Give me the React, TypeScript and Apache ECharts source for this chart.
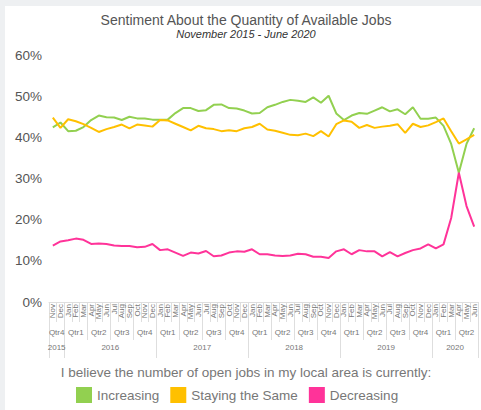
import React, { useEffect, useRef } from "react";
import * as echarts from "echarts";

const months = [
  "Nov", "Dec",
  "Jan", "Feb", "Mar", "Apr", "May", "Jun", "Jul", "Aug", "Sep", "Oct", "Nov", "Dec",
  "Jan", "Feb", "Mar", "Apr", "May", "Jun", "Jul", "Aug", "Sep", "Oct", "Nov", "Dec",
  "Jan", "Feb", "Mar", "Apr", "May", "Jun", "Jul", "Aug", "Sep", "Oct", "Nov", "Dec",
  "Jan", "Feb", "Mar", "Apr", "May", "Jun", "Jul", "Aug", "Sep", "Oct", "Nov", "Dec",
  "Jan", "Feb", "Mar", "Apr", "May", "Jun",
];
const years = ["2015", "2016", "2017", "2018", "2019", "2020"];

const increasing = [
  42.4, 43.6,
  41.5, 41.6, 42.5, 44.2, 45.3, 44.9, 44.8, 44.2, 45.0, 44.6, 44.6, 44.3,
  44.3, 44.3, 45.9, 47.1, 47.1, 46.4, 46.6, 47.9, 48.0, 47.1, 47.0, 46.5,
  45.8, 45.9, 47.3, 47.9, 48.6, 49.1, 48.9, 48.6, 49.7, 48.4, 50.1, 45.8,
  44.2, 45.3, 45.9, 45.7, 46.5, 47.3, 46.3, 46.8, 45.6, 47.3, 44.5, 44.5,
  44.8, 42.8, 38.4, 31.4, 38.4, 42.2,
];
const staying = [
  44.8, 42.3,
  44.4, 43.9, 43.2, 42.3, 41.3, 42.0, 42.5, 43.1, 42.2, 43.1, 42.9, 42.6,
  44.2, 44.1, 43.3, 42.5, 41.7, 42.8, 42.2, 42.0, 41.5, 41.7, 41.5, 42.2,
  42.5, 43.3, 41.9, 41.6, 41.1, 40.6, 40.5, 40.9, 40.3, 41.5, 40.2, 43.2,
  44.1, 43.8, 42.3, 43.0, 42.3, 42.6, 42.8, 43.2, 41.1, 43.3, 42.5, 42.9,
  43.7, 44.6, 41.5, 38.5, 39.5, 40.6,
];
const decreasing = [
  13.7, 14.7,
  15.0, 15.4, 15.1, 14.1, 14.2, 14.1, 13.7, 13.6, 13.6, 13.3, 13.4, 14.1,
  12.6, 12.8, 12.0, 11.2, 12.0, 11.8, 12.4, 11.1, 11.3, 12.0, 12.3, 12.2,
  12.8, 11.6, 11.6, 11.3, 11.2, 11.3, 11.7, 11.6, 11.0, 11.0, 10.7, 12.3,
  12.8, 11.6, 12.6, 12.3, 12.3, 11.1, 12.1, 11.1, 11.9, 12.6, 13.0, 14.0,
  13.0, 14.0, 20.4, 31.4, 23.3, 18.3,
];

const seriesNames = ["Increasing", "Staying the Same", "Decreasing"];
const seriesColors = ["#92D050", "#FFC000", "#FF3399"];
const yMin = 0;
const yMax = 60;
const yStep = 10;

const monthOrder = ["Jan", "Feb", "Mar", "Apr", "May", "Jun", "Jul", "Aug", "Sep", "Oct", "Nov", "Dec"];
const FONT = "'Liberation Sans', Arial, Helvetica, sans-serif";

type Group = { key: string; label: string; start: number; end: number };

function buildGroups() {
  let yi = 0;
  const qGroups: Group[] = [];
  const yGroups: Group[] = [];
  months.forEach((m, i) => {
    if (i > 0 && m === "Jan") yi++;
    const q = Math.floor(monthOrder.indexOf(m) / 3) + 1;
    const qKey = yi + "-" + q;
    const lq = qGroups[qGroups.length - 1];
    if (lq && lq.key === qKey) lq.end = i;
    else qGroups.push({ key: qKey, label: "Qtr" + q, start: i, end: i });
    const yKey = String(yi);
    const ly = yGroups[yGroups.length - 1];
    if (ly && ly.key === yKey) ly.end = i;
    else yGroups.push({ key: yKey, label: years[yi], start: i, end: i });
  });
  return { qGroups, yGroups };
}

export default function App() {
  const ref = useRef<HTMLDivElement>(null);
  useEffect(() => {
    document.body.style.margin = "0";
    if (!ref.current) return;
    const chart = echarts.init(ref.current, undefined, { renderer: "svg" });
    const { qGroups, yGroups } = buildGroups();
    const qLabelMap: Record<number, string> = {};
    qGroups.forEach((g) => (qLabelMap[g.start + g.end] = g.label));
    const yLabelMap: Record<number, string> = {};
    yGroups.forEach((g) => (yLabelMap[g.start + g.end] = g.label));
    const qStarts = new Set(qGroups.map((g) => g.start));
    const yStarts = new Set(yGroups.map((g) => g.start));
    const lastIdx = months.length - 1;
    const sepColor = "#dedede";

    const catBase = {
      type: "category" as const,
      data: months,
      position: "bottom" as const,
      boundaryGap: true,
      axisLine: { show: false },
      axisLabel: { show: false },
      splitLine: { show: false },
    };
    const valBase = {
      type: "value" as const,
      position: "bottom" as const,
      min: -0.5,
      max: lastIdx + 0.5,
      interval: 0.5,
      axisLine: { show: false },
      axisTick: { show: false },
      splitLine: { show: false },
    };

    chart.setOption({
      animation: false,
      title: [
        {
          text: "Sentiment About the Quantity of Available Jobs",
          subtext: "November 2015 - June 2020",
          left: 241,
          top: 7,
          textAlign: "center",
          padding: 0,
          itemGap: 1,
          textStyle: { fontFamily: FONT, fontSize: 14, fontWeight: "normal", color: "#555" },
          subtextStyle: { fontFamily: FONT, fontSize: 11, fontStyle: "italic", color: "#333" },
        },
        {
          text: "I believe the number of open jobs in my local area is currently:",
          left: 241,
          top: 359,
          textAlign: "center",
          padding: 0,
          textStyle: { fontFamily: FONT, fontSize: 13.5, fontWeight: "normal", color: "#777" },
        },
      ],
      legend: {
        data: seriesNames,
        left: 71,
        top: 381,
        padding: 0,
        icon: "rect",
        itemWidth: 16,
        itemHeight: 16,
        itemGap: 11,
        textStyle: { fontFamily: FONT, fontSize: 13.5, color: "#777" },
      },
      grid: { left: 44, right: 1, top: 49, bottom: 108 },
      xAxis: [
        {
          ...catBase,
          axisLine: { show: true, lineStyle: { color: sepColor } },
          axisTick: { show: true, interval: 0, length: 20, lineStyle: { color: sepColor } },
          axisLabel: {
            show: true,
            interval: 0,
            rotate: 90,
            margin: 2,
            fontSize: 8,
            fontFamily: FONT,
            color: "#777",
          },
        },
        {
          ...catBase,
          axisTick: {
            show: true,
            interval: (i: number) => qStarts.has(i),
            length: 38,
            lineStyle: { color: sepColor },
          },
        },
        {
          ...catBase,
          axisTick: {
            show: true,
            interval: (i: number) => yStarts.has(i),
            length: 56,
            lineStyle: { color: sepColor },
          },
        },
        {
          ...valBase,
          axisLabel: {
            show: true,
            margin: 26,
            fontSize: 8,
            fontFamily: FONT,
            color: "#777",
            formatter: (v: number) => qLabelMap[Math.round(v * 2)] ?? "",
          },
        },
        {
          ...valBase,
          axisLabel: {
            show: true,
            margin: 41,
            fontSize: 8,
            fontFamily: FONT,
            color: "#777",
            formatter: (v: number) => yLabelMap[Math.round(v * 2)] ?? "",
          },
        },
      ],
      yAxis: {
        type: "value",
        min: yMin,
        max: yMax,
        interval: yStep,
        axisLine: { show: false },
        axisTick: { show: false },
        splitLine: { show: false },
        axisLabel: {
          formatter: "{value}%",
          margin: 7,
          fontSize: 13.5,
          fontFamily: FONT,
          color: "#555",
        },
      },
      series: [increasing, staying, decreasing].map((d, i) => ({
        name: seriesNames[i],
        type: "line",
        xAxisIndex: 0,
        data: d,
        showSymbol: false,
        symbol: "none",
        color: seriesColors[i],
        lineStyle: { width: 2, color: seriesColors[i] },
      })),
    });
    return () => chart.dispose();
  }, []);

  return (
    <div style={{ position: "relative", width: 481, height: 410, background: "#eef0f2", overflow: "hidden" }}>
      <div
        ref={ref}
        style={{ position: "absolute", left: 5, top: 6, width: 476, height: 404, background: "#ffffff" }}
      />
    </div>
  );
}
